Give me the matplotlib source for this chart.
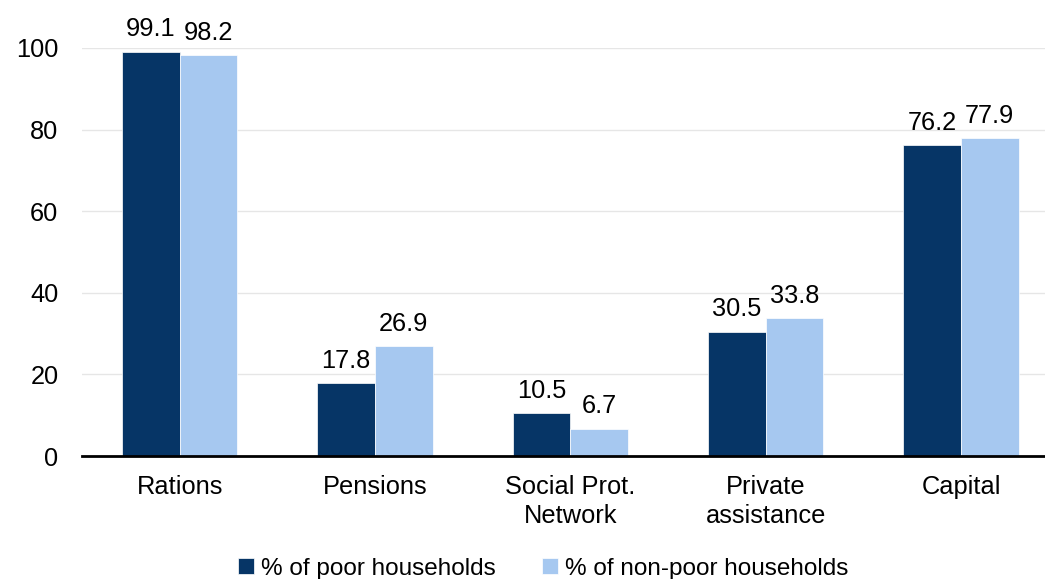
import matplotlib.pyplot as plt
import numpy as np

categories = ["Rations", "Pensions", "Social Prot.\nNetwork", "Private\nassistance", "Capital"]
poor = [99.1, 17.8, 10.5, 30.5, 76.2]
non_poor = [98.2, 26.9, 6.7, 33.8, 77.9]
yticks = [0, 20, 40, 60, 80, 100]

plt.rcParams["font.family"] = ["Liberation Sans", "DejaVu Sans"]
fs = 18.3

fig = plt.figure(figsize=(10.45, 5.79), dpi=100)
ax = fig.add_axes([0.0785, 0.2124, 0.9215, 0.7047])

x = np.arange(len(categories))
w = 0.295
b1 = ax.bar(x - w / 2, poor, w, color="#063566", edgecolor="white", linewidth=0.5,
            label="% of poor households", zorder=3)
b2 = ax.bar(x + w / 2, non_poor, w, color="#A6C8F0", edgecolor="white", linewidth=0.5,
            label="% of non-poor households", zorder=3)

for bars in (b1, b2):
    for bar in bars:
        h = bar.get_height()
        ax.annotate(f"{h:.1f}", (bar.get_x() + bar.get_width() / 2, h),
                    textcoords="offset points", xytext=(0, 7.5), ha="center", va="bottom",
                    fontsize=fs, annotation_clip=False)

ax.set_xlim(-0.5, 4.43)
ax.set_ylim(0, 100)
ax.set_yticks(yticks)
ax.set_xticks(x)
ax.set_xticklabels(categories, linespacing=1.25)
ax.tick_params(axis="both", length=0, labelsize=fs)
ax.tick_params(axis="y", pad=17)
ax.tick_params(axis="x", pad=14)
ax.grid(axis="y", color="#E6E6E6", linewidth=1, zorder=0)

for side in ["top", "right", "left"]:
    ax.spines[side].set_visible(False)
ax.spines["bottom"].set_linewidth(2)
ax.spines["bottom"].set_zorder(4)

fig.legend(handles=[b1, b2], loc="center", bbox_to_anchor=(0.52, 0.018), ncol=2, frameon=False,
           fontsize=17.5, handlelength=0.65, handleheight=0.65, handletextpad=0.3, columnspacing=1.9)

fig.savefig("out.png", dpi=100)
